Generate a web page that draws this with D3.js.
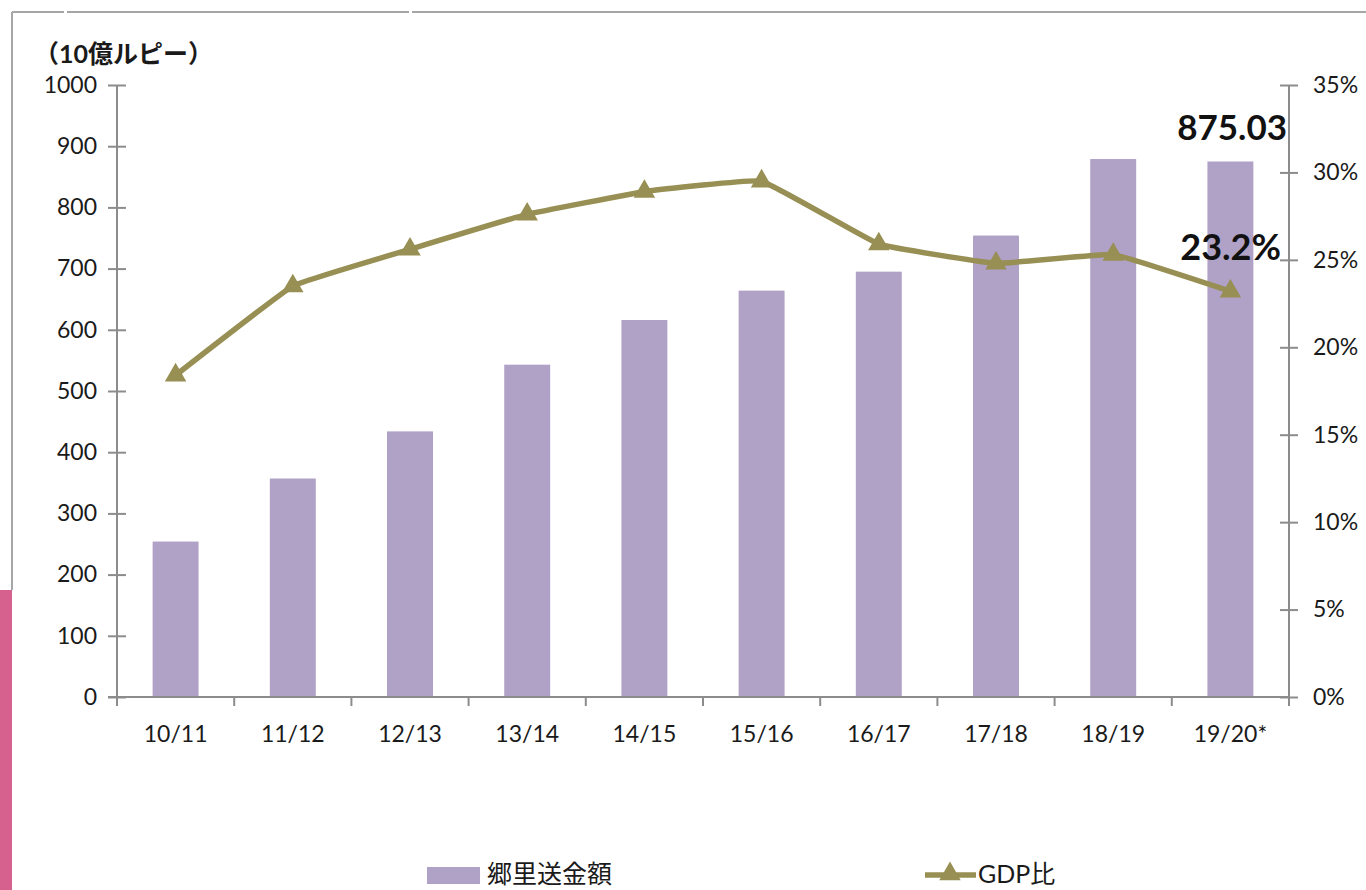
<!DOCTYPE html>
<html><head><meta charset="utf-8">
<script src="https://cdn.jsdelivr.net/npm/d3@7"></script>
<style>
html,body{margin:0;padding:0;background:#fff;}
svg{display:block;}
text{font-family:Lato,"Noto Sans CJK JP",sans-serif;}
</style></head>
<body><svg id="c" width="1366" height="890"></svg>
<script>
const categories = ["10/11","11/12","12/13","13/14","14/15","15/16","16/17","17/18","18/19","19/20*"];
const remittance = [254, 357, 434, 543, 616, 664, 695, 754, 879, 875.03];
const gdpRatio = [18.4, 23.5, 25.6, 27.6, 28.9, 29.5, 25.9, 24.8, 25.3, 23.2];
const leftTicks = [0,100,200,300,400,500,600,700,800,900,1000];
const rightTicks = [0,5,10,15,20,25,30,35];
const seriesNames = ["郷里送金額","GDP比"];
const unitLabel = "（10億ルピー）";
const notes = ["875.03","23.2%"];

const svg = d3.select("#c");
const L = 117, R = 1289, T = 85, B = 697;
const barColor = "#b0a1c7", lineColor = "#978f53", axisColor = "#8c8c8c", textColor = "#1a1a1a";
const tickFont = "Lato,sans-serif";

// frame decorations
const deco = svg.append("g");
deco.append("line").attr("x1",12).attr("x2",64).attr("y1",12).attr("y2",12).attr("stroke","#a6a6a6").attr("stroke-width",2);
deco.append("line").attr("x1",67).attr("x2",409).attr("y1",12).attr("y2",12).attr("stroke","#a6a6a6").attr("stroke-width",2);
deco.append("line").attr("x1",412).attr("x2",1366).attr("y1",12).attr("y2",12).attr("stroke","#a6a6a6").attr("stroke-width",2);
deco.append("line").attr("x1",12).attr("x2",12).attr("y1",12).attr("y2",590).attr("stroke","#a6a6a6").attr("stroke-width",2);
deco.append("rect").attr("x",0).attr("y",590).attr("width",12).attr("height",300).attr("fill","#d6618f");

const x = d3.scaleBand().domain(categories).range([L, R]).paddingInner(0).paddingOuter(0);
const yL = d3.scaleLinear().domain([0,1000]).range([B, T]);
const yR = d3.scaleLinear().domain([0,35]).range([B, T]);
const bw = x.bandwidth();

// bars
svg.append("g").selectAll("rect").data(categories).join("rect")
  .attr("x", c => x(c) + bw*0.304)
  .attr("width", bw*0.392)
  .attr("y", (c,i) => yL(remittance[i]))
  .attr("height", (c,i) => B - yL(remittance[i]))
  .attr("fill", barColor);

// left axis
const gl = svg.append("g").attr("transform",`translate(${L},0)`)
  .call(d3.axisLeft(yL).tickValues(leftTicks).tickSize(9).tickPadding(11).tickFormat(d3.format("d")));
gl.select(".domain").attr("d", `M0,${T}V${B+9}`).attr("stroke",axisColor).attr("stroke-width",2);
gl.selectAll(".tick line").attr("x1",9).attr("x2",-9).attr("stroke",axisColor).attr("stroke-width",2);
gl.selectAll(".tick text").attr("font-size",23).attr("fill",textColor).attr("font-family",tickFont);

// right axis
const gr = svg.append("g").attr("transform",`translate(${R},0)`)
  .call(d3.axisRight(yR).tickValues(rightTicks).tickSize(9).tickPadding(15).tickFormat(d => d + "%"));
gr.select(".domain").attr("d", `M0,${T}V${B}`).attr("stroke",axisColor).attr("stroke-width",2);
gr.selectAll(".tick line").attr("x1",-9).attr("x2",9).attr("stroke",axisColor).attr("stroke-width",2);
gr.selectAll(".tick text").attr("font-size",23).attr("fill",textColor).attr("font-family",tickFont);

// bottom axis
const gb = svg.append("g").attr("transform",`translate(0,${B})`)
  .call(d3.axisBottom(x).tickSize(0).tickPadding(29));
gb.select(".domain").attr("d", `M${L-9},0H${R}`).attr("stroke",axisColor).attr("stroke-width",2);
gb.selectAll(".tick text").attr("font-size",23).attr("fill",textColor).attr("font-family",tickFont);
gb.append("g").selectAll("line").data(categories.map(c => x(c)).concat([R])).join("line")
  .attr("x1", d => d).attr("x2", d => d).attr("y1", 0).attr("y2", 9)
  .attr("stroke",axisColor).attr("stroke-width",2);

// line
const cx = c => x(c) + bw/2;
const lineGen = d3.line().x((d,i) => cx(categories[i])).y(d => yR(d)).curve(d3.curveCardinal.tension(0.75));
svg.append("path").datum(gdpRatio).attr("d", lineGen)
  .attr("fill","none").attr("stroke",lineColor).attr("stroke-width",5.5).attr("stroke-linejoin","round");
const tri = d3.symbol().type(d3.symbolTriangle).size(200);
svg.append("g").selectAll("path").data(gdpRatio).join("path")
  .attr("transform", (d,i) => `translate(${cx(categories[i])},${yR(d)})`)
  .attr("d", tri).attr("fill", lineColor);

// unit label
svg.append("text").attr("x",34).attr("y",63).attr("font-size",25).attr("font-weight","bold")
  .attr("fill",textColor).attr("font-family","'Noto Sans CJK JP',sans-serif").text(unitLabel);

// annotations
svg.append("text").attr("x", 1287).attr("y",140).attr("text-anchor","end")
  .attr("font-size",35).attr("font-weight","bold").attr("fill","#111").text(notes[0]);
svg.append("text").attr("x", 1281).attr("y",260).attr("text-anchor","end")
  .attr("font-size",36).attr("font-weight","bold").attr("fill","#111").text(notes[1]);

// legend
const lg = svg.append("g");
lg.append("rect").attr("x",427).attr("y",867).attr("width",53).attr("height",17).attr("fill",barColor);
lg.append("text").attr("x",487).attr("y",883).attr("font-size",25).attr("fill",textColor)
  .attr("font-family","'Noto Sans CJK JP',sans-serif").text(seriesNames[0]);
lg.append("line").attr("x1",925).attr("x2",976).attr("y1",875).attr("y2",875).attr("stroke",lineColor).attr("stroke-width",5.5);
lg.append("path").attr("transform","translate(950,874)").attr("d",tri).attr("fill",lineColor);
lg.append("text").attr("x",978).attr("y",883).attr("font-size",25).attr("fill",textColor)
  .attr("font-family","Lato,'Noto Sans CJK JP',sans-serif").text(seriesNames[1]);
</script></body></html>
